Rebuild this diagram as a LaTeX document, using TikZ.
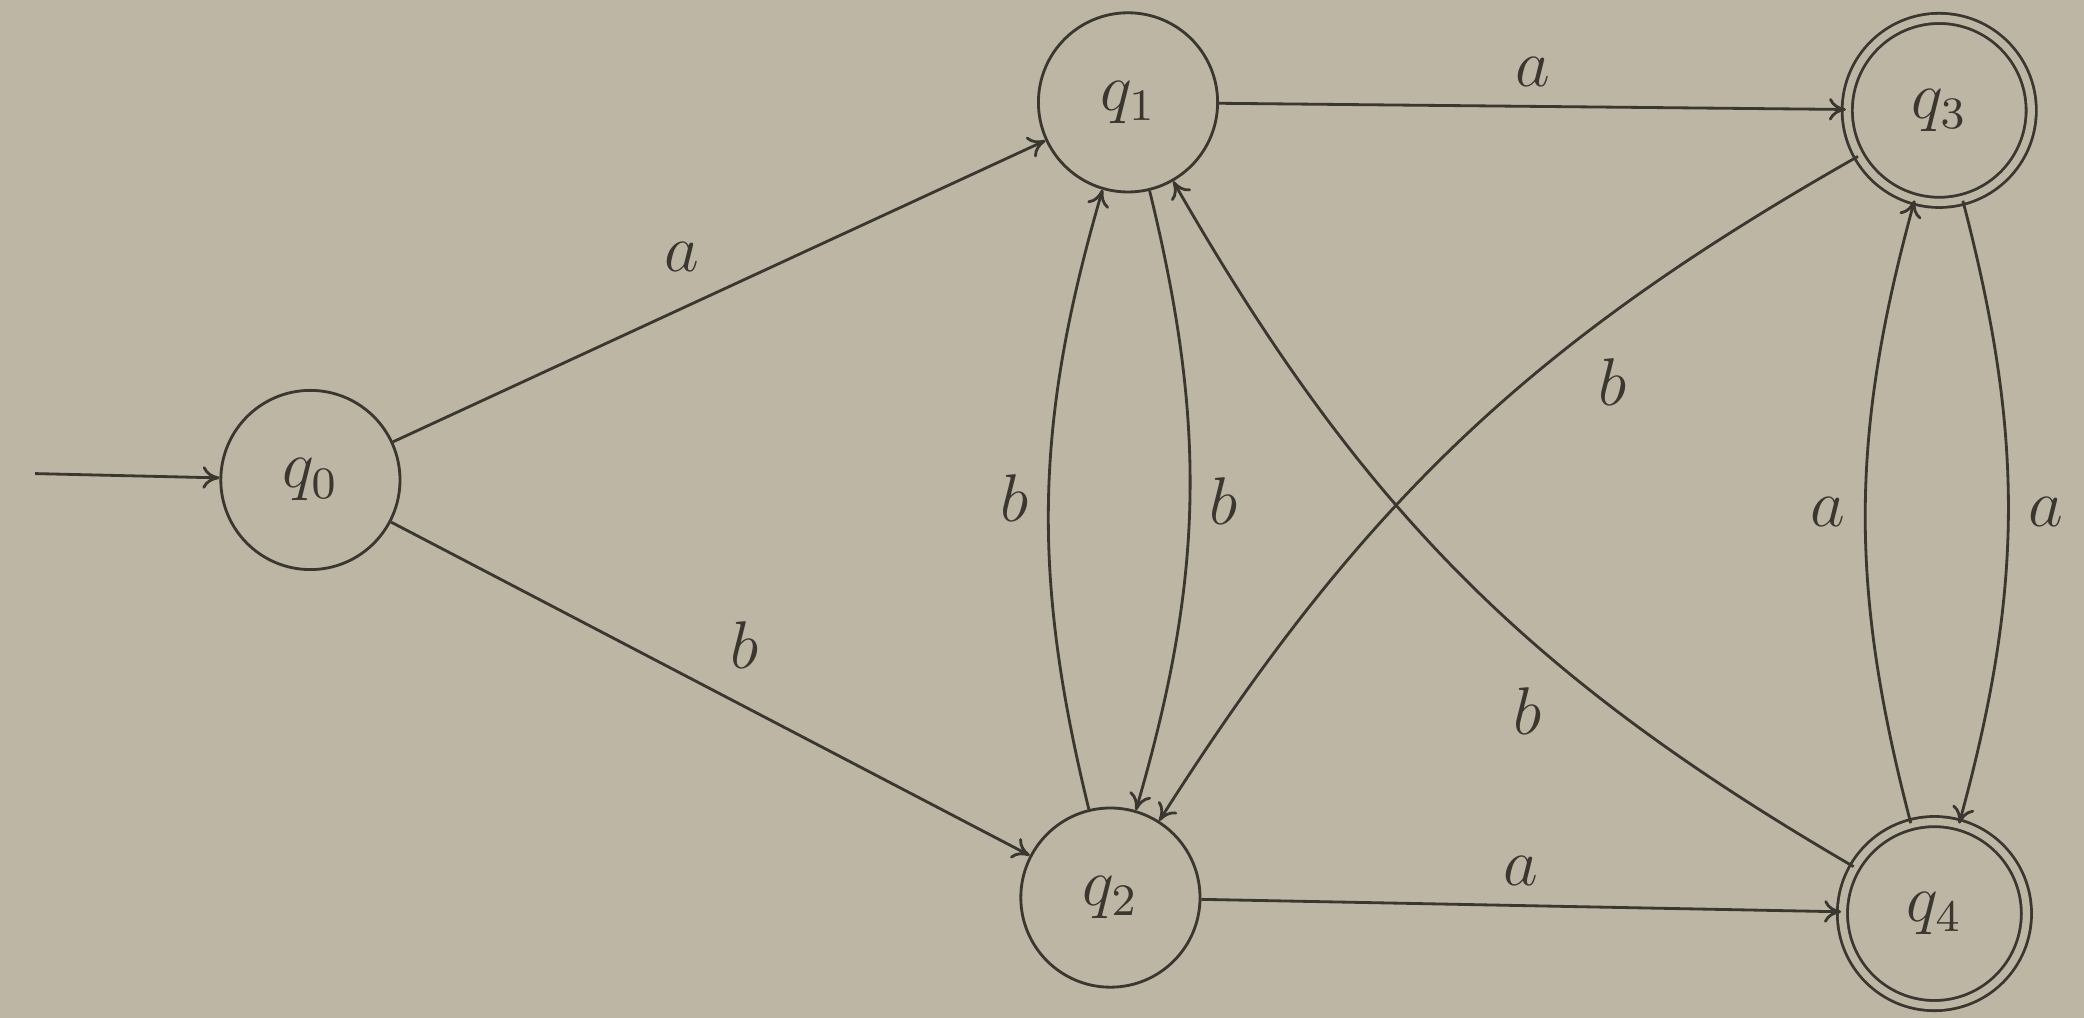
\documentclass[tikz,border=0pt]{standalone}
\usepackage{tikz}
\usetikzlibrary{arrows.meta,positioning}
\usepackage{amsmath}
\definecolor{PaperTone}{RGB}{189,182,164}
\definecolor{InkGray}{RGB}{58,54,48}
\tikzset{
  statecirc/.style={draw=InkGray,circle,line width=0.5pt,
    minimum size=1.12cm,inner sep=0pt,text=InkGray},
  acceptcirc/.style={statecirc,minimum size=1.15cm,
    double=PaperTone,double distance=1.3pt},
  transarrow/.style={-{To[length=3pt,width=4pt]},
    line width=0.5pt,draw=InkGray},
  translabel/.style={text=InkGray},
}

\begin{document}
\begin{tikzpicture}[font=\large,auto]
  \useasboundingbox[fill=PaperTone] (0,0) rectangle (13.025,-6.3625);
  % states
  \node[statecirc] (q0) at (1.94,-3.00) {$q_0$};
  \node[statecirc] (q1) at (7.05,-0.64) {$q_1$};
  \node[statecirc] (q2) at (6.94,-5.61) {$q_2$};
  \node[acceptcirc] (q3) at (12.12,-0.69) {$q_3$};
  \node[acceptcirc] (q4) at (12.09,-5.71) {$q_4$};
  \coordinate (start) at (0.22,-2.96);
  % transitions
  \draw[transarrow] (start) -- (q0);
  \draw[transarrow] (q0) -- node[translabel] {$a$} (q1);
  \draw[transarrow] (q0) -- node[translabel] {$b$} (q2);
  \draw[transarrow] (q1) -- node[translabel] {$a$} (q3);
  \draw[transarrow] (q2) -- node[translabel] {$a$} (q4);
  \draw[transarrow] (q1) to[bend left=15] node[translabel] {$b$} (q2);
  \draw[transarrow] (q2) to[bend left=15] node[translabel] {$b$} (q1);
  \draw[transarrow] (q3) to[bend right=14] node[translabel,pos=0.33] {$b$} (q2);
  \draw[transarrow] (q4) to[bend left=15] node[translabel,pos=0.35] {$b$} (q1);
  \draw[transarrow] (q3) to[bend left=15] node[translabel] {$a$} (q4);
  \draw[transarrow] (q4) to[bend left=15] node[translabel] {$a$} (q3);
\end{tikzpicture}
\end{document}
